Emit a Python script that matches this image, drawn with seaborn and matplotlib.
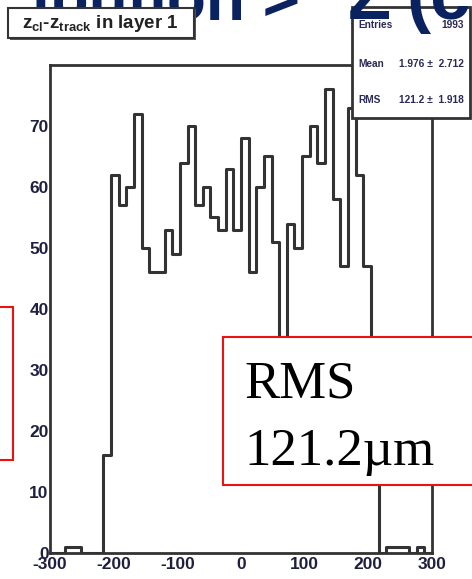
import numpy as np
import pandas as pd
import matplotlib
matplotlib.use("Agg")
import matplotlib.pyplot as plt
import seaborn as sns
from matplotlib.patches import Rectangle
from matplotlib.ticker import MultipleLocator

# histogram of z_cl - z_track, 50 bins of 12 um from -300 to 300
n_bins = 50
x_range = (-300, 300)
counts = [0, 0, 1, 1, 0, 0, 0, 16,
          62, 57, 60, 72, 50, 46, 46, 53, 49, 64, 70, 57, 60, 55, 53, 63, 53, 68, 46, 60, 65, 51,
          23,
          54, 50, 65, 70, 64, 76, 58, 47, 73, 62, 47,
          22,
          0, 1, 1, 1, 0, 1, 0]
x_ticks = [-300, -200, -100, 0, 100, 200, 300]
y_ticks = [0, 10, 20, 30, 40, 50, 60, 70]

title_text = r"$\mathbf{z_{cl}}$-$\mathbf{z_{track}}$ in layer 1"
stats = [("Entries", "1993"), ("Mean", "1.976 \u00b1  2.712"), ("RMS", "121.2 \u00b1  1.918")]
slide_title = ["ibution >", "\u03a3", "(c"]
rms_note = ["RMS", "121.2\u00b5m"]

sns.set_style("white")
plt.rcParams["font.family"] = ["Liberation Sans", "DejaVu Sans"]
plt.rcParams["axes.unicode_minus"] = False
plt.rcParams["mathtext.fontset"] = "custom"
plt.rcParams["mathtext.rm"] = "Liberation Sans"
plt.rcParams["mathtext.bf"] = "Liberation Sans:bold"

W, H = 472, 579
fig = plt.figure(figsize=(W / 100, H / 100), dpi=100)


def fx(px):
    return px / W


def fy(py):
    return 1 - py / H


ax = fig.add_axes([fx(50), fy(553), fx(432) - fx(50), fy(65) - fy(553)])

edges = np.linspace(x_range[0], x_range[1], n_bins + 1)
df = pd.DataFrame({"dz": (edges[:-1] + edges[1:]) / 2, "n": counts})
sns.histplot(data=df, x="dz", weights="n", bins=n_bins, binrange=x_range,
             element="step", fill=False, color="#333333", linewidth=2.2, ax=ax)

ax.set_xlim(-300, 300)
ax.set_ylim(0, 80)
ax.set_xticks(x_ticks)
ax.set_yticks(y_ticks)
ax.xaxis.set_minor_locator(MultipleLocator(20))
ax.yaxis.set_minor_locator(MultipleLocator(2))
ax.set_xlabel("")
ax.set_ylabel("")
ax.tick_params(which="both", direction="in", colors="#333333", width=1.8,
               labelcolor="#1f1f3f", labelsize=12.5)
ax.tick_params(axis="x", which="major", length=11, pad=3)
ax.tick_params(axis="x", which="minor", length=5.5)
ax.tick_params(axis="y", which="major", length=8.5, pad=1)
ax.tick_params(axis="y", which="minor", length=4.5)
for lbl in ax.get_xticklabels() + ax.get_yticklabels():
    lbl.set_fontweight("bold")
for sp in ax.spines.values():
    sp.set_color("#333333")
    sp.set_linewidth(2)

# slide title, cut off by the top edge (over the stats box, under the title box)
navy = "#0b2260"
fig.text(fx(300), fy(19), slide_title[0], fontsize=46, fontweight="bold",
         color=navy, va="baseline", ha="right", zorder=3)
fig.text(fx(347), fy(19), slide_title[1], fontsize=53, fontweight="bold",
         color=navy, va="baseline", ha="left", zorder=3)
fig.text(fx(406), fy(19), slide_title[2], fontsize=52, fontweight="bold",
         color=navy, va="baseline", ha="left", zorder=3)

# ROOT title box
fig.add_artist(Rectangle((fx(10), fy(40)), fx(196) - fx(10), fy(9) - fy(40),
                         transform=fig.transFigure, facecolor="#555555", edgecolor="none",
                         zorder=4))
fig.add_artist(Rectangle((fx(8), fy(38)), fx(194) - fx(8), fy(8) - fy(38),
                         transform=fig.transFigure, facecolor="white",
                         edgecolor="#333333", linewidth=1.5, zorder=4))
fig.text(fx(100), fy(23), title_text, fontsize=13.5, fontweight="bold",
         color="#222222", ha="center", va="center", zorder=5)

# stats box
fig.add_artist(Rectangle((fx(352), fy(118)), fx(470) - fx(352), fy(7) - fy(118),
                         transform=fig.transFigure, facecolor="white",
                         edgecolor="#333333", linewidth=2, zorder=1))
for (name, val), ypx in zip(stats, [25, 64, 100]):
    fig.text(fx(358), fy(ypx), name, fontsize=7.3, fontweight="bold",
             color="#2a2a55", ha="left", va="center", zorder=2)
    fig.text(fx(464), fy(ypx), val, fontsize=7.3, fontweight="bold",
             color="#2a2a55", ha="right", va="center", zorder=2)

# red annotation boxes from the slide
fig.add_artist(Rectangle((fx(-5), fy(460)), fx(13) - fx(-5), fy(307) - fy(460),
                         transform=fig.transFigure, facecolor="white",
                         edgecolor="#ee1111", linewidth=1.5))
fig.add_artist(Rectangle((fx(223), fy(485)), fx(480) - fx(223), fy(337) - fy(485),
                         transform=fig.transFigure, facecolor="white",
                         edgecolor="#ee1111", linewidth=1.5))
for line, ypx in zip(rms_note, [398, 465]):
    fig.text(fx(244), fy(ypx), line, fontsize=38, family=["Liberation Serif", "DejaVu Serif"],
             color="black", ha="left", va="baseline")

fig.savefig("out.png", dpi=100)
